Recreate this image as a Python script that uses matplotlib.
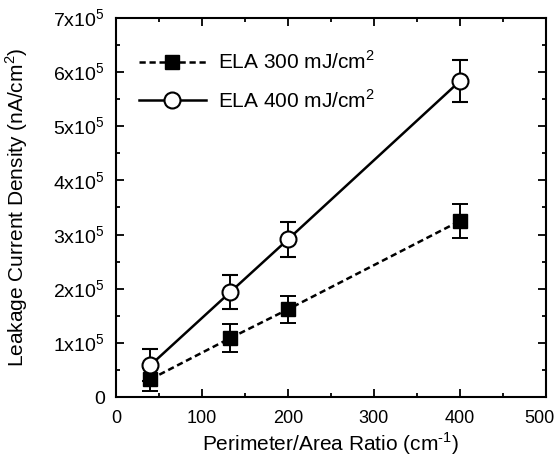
import matplotlib
matplotlib.use("Agg")
import matplotlib.pyplot as plt
from matplotlib.lines import Line2D
from matplotlib.ticker import MultipleLocator, FuncFormatter
from matplotlib.transforms import ScaledTranslation

plt.rcParams['font.family'] = ['Liberation Sans', 'DejaVu Sans']
plt.rcParams['mathtext.fontset'] = 'custom'
plt.rcParams['mathtext.rm'] = 'Liberation Sans'

# perimeter/area ratio (cm^-1)
ratio = [40, 133, 200, 400]

# ELA 300 mJ/cm2, in units of 1e5 nA/cm2
ela300 = [0.33, 1.09, 1.62, 3.25]
ela300_err = [0.21, 0.26, 0.25, 0.31]

# ELA 400 mJ/cm2
ela400 = [0.59, 1.94, 2.91, 5.83]
ela400_err = [0.29, 0.31, 0.32, 0.39]

fig = plt.figure(figsize=(5.58, 4.57), dpi=100)
ax = fig.add_axes([0.208, 0.131, 0.77, 0.83])

dash = (0, (2.5, 1.5))
lw = 1.8
ax.errorbar(ratio, [v * 1e5 for v in ela300], yerr=[e * 1e5 for e in ela300_err],
            color='black', linestyle=dash, linewidth=lw,
            marker='s', markersize=9.5, markerfacecolor='black',
            capsize=6, elinewidth=1.4, capthick=1.4)
ax.errorbar(ratio, [v * 1e5 for v in ela400], yerr=[e * 1e5 for e in ela400_err],
            color='black', linestyle='-', linewidth=lw,
            marker='o', markersize=11.5, markerfacecolor='white', markeredgewidth=1.5,
            capsize=6, elinewidth=1.4, capthick=1.4)

ax.set_xlim(0, 500)
ax.set_ylim(0, 7e5)
ax.xaxis.set_major_locator(MultipleLocator(100))
ax.xaxis.set_minor_locator(MultipleLocator(50))
ax.yaxis.set_major_locator(MultipleLocator(1e5))
ax.yaxis.set_minor_locator(MultipleLocator(0.5e5))


def ylab(v, pos):
    n = int(round(v / 1e5))
    if n == 0:
        return '0'
    return r'%dx10$^5$' % n


ax.yaxis.set_major_formatter(FuncFormatter(ylab))
ax.tick_params(which='both', direction='in', top=True, right=True, width=1.3)
ax.tick_params(which='major', length=6)
ax.tick_params(which='minor', length=3)
ax.tick_params(axis='x', which='major', labelsize=13, pad=9.5)
ax.tick_params(axis='y', which='major', labelsize=14, pad=8)
for s in ax.spines.values():
    s.set_linewidth(1.5)

# pull the "500" label in from the right edge a little, as in the original
xt = list(ax.get_xticks())
ticks = ax.xaxis.get_major_ticks()
for loc, tk in zip(xt, ticks):
    if abs(loc - 500) < 1e-6:
        tk.label1.set_transform(tk.label1.get_transform()
                                + ScaledTranslation(-0.06, 0, fig.dpi_scale_trans))

ax.set_xlabel(r'Perimeter/Area Ratio (cm$^{\text{-}1}$)', fontsize=15, labelpad=2)
ax.set_ylabel(r'Leakage Current Density (nA/cm$^2$)', fontsize=15, labelpad=17)

# legend handles without the error bars
handles = [
    Line2D([], [], color='black', linestyle=dash, linewidth=lw, marker='s',
           markersize=9.5, markerfacecolor='black'),
    Line2D([], [], color='black', linestyle='-', linewidth=lw, marker='o',
           markersize=11.5, markerfacecolor='white', markeredgewidth=1.5),
]
labels = [r'ELA 300 mJ/cm$^2$', r'ELA 400 mJ/cm$^2$']
ax.legend(handles, labels, loc='upper left', bbox_to_anchor=(0.0, 0.974),
          frameon=False, fontsize=15, handlelength=3.2, handletextpad=0.6,
          borderaxespad=0.7, labelspacing=0.75)

fig.savefig('out.png', dpi=100)
